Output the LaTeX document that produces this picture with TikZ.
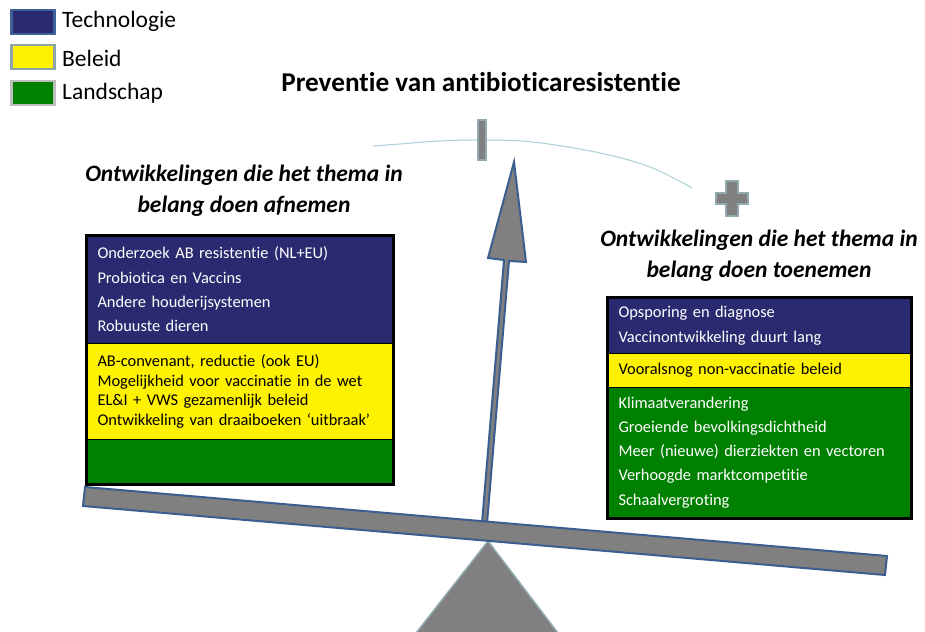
\documentclass[tikz,border=0pt]{standalone}
\usepackage{fontspec}
\setmainfont{Carlito}[RawFeature={-liga;-clig;-calt;-dlig}]
\begin{document}
\begin{tikzpicture}[x=1pt,y=-1pt,
  techblue/.style={fill={rgb,255:red,42;green,42;blue,112}},
  sec/.style={draw=black, line width=1pt, anchor=north west, inner xsep=11pt, inner ysep=0pt, align=left},
  whitetxt/.style={text=white},
  outline/.style={draw=black, line width=3pt},
  legbox/.style={line width=2.5pt},
  legtxt/.style={anchor=west, font=\fontsize{23.5}{26}\selectfont, inner sep=0pt},
  heading/.style={font=\fontsize{23.5}{31}\selectfont\bfseries\itshape, align=center},
  bluedraw/.style={draw={rgb,255:red,59;green,94;blue,145}, line width=2pt, fill={rgb,255:red,128;green,128;blue,128}, line join=miter}
]
\useasboundingbox (0,0) rectangle (925,631);

% legend
\node[legbox, draw={rgb,255:red,62;green,97;blue,150}, techblue, minimum width=43pt, minimum height=24pt, anchor=north west, inner sep=0pt] (lg1) at (10,9) {};
\node[legbox, draw={rgb,255:red,142;green,164;blue,171}, fill=yellow, minimum width=43pt, minimum height=24pt, anchor=north west, inner sep=0pt] (lg2) at (10,44) {};
\node[legbox, draw={rgb,255:red,190;green,190;blue,190}, fill={rgb,255:red,0;green,128;blue,0}, minimum width=43pt, minimum height=24pt, anchor=north west, inner sep=0pt] (lg3) at (10,80) {};
\node[legtxt] (lt1) at (62,21) {Technologie};
\node[legtxt] (lt2) at (62,58) {Beleid};
\node[legtxt] (lt3) at (62,93) {Landschap};

% title
\node[font=\fontsize{27.2}{30}\selectfont\bfseries] (title) at (481,82) {Preventie van antibioticaresistentie};

% arc
\draw[draw={rgb,255:red,170;green,208;blue,214}, line width=1pt] plot[smooth, tension=0.6] coordinates {(373,146) (400,144) (440,141) (483,140) (533,142) (600,153) (650,167) (692,188)};

% minus
\node[draw={rgb,255:red,146;green,170;blue,172}, line width=2.5pt, fill={rgb,255:red,128;green,128;blue,128}, minimum width=8pt, minimum height=40pt, inner sep=0pt] (minus) at (482,140) {};

% plus
\draw[draw={rgb,255:red,146;green,170;blue,172}, line width=2.5pt, fill={rgb,255:red,128;green,128;blue,128}]
 (726,181) -- (738,181) -- (738,193) -- (748,193) -- (748,204) -- (738,204) -- (738,216) -- (726,216) -- (726,204) -- (716,204) -- (716,193) -- (726,193) -- cycle;

% headings
\node[heading] (hl) at (244,191) {Ontwikkelingen die het thema in\\belang doen afnemen};
\node[heading] (hr) at (759,256) {Ontwikkelingen die het thema in\\belang doen toenemen};

% left box
\node[sec, techblue, whitetxt, minimum width=306pt, minimum height=108pt, text width=284pt, font=\fontsize{16.4}{24.3}\selectfont] (lb) at (86,235)
 {Onderzoek AB resistentie (NL+EU)\\Probiotica en Vaccins\\Andere houderijsystemen\\Robuuste dieren};
\node[sec, fill=yellow, minimum width=306pt, minimum height=96pt, text width=284pt, font=\fontsize{16.4}{19.7}\selectfont] (ly) at (86,343)
 {AB-convenant, reductie (ook EU)\\Mogelijkheid voor vaccinatie in de wet\\EL\&I + VWS gezamenlijk beleid\\Ontwikkeling van draaiboeken ‘uitbraak’};
\node[sec, fill={rgb,255:red,0;green,128;blue,0}, minimum width=306pt, minimum height=44pt] (lgn) at (86,439) {};
\draw[outline] (lb.north west) rectangle (lgn.south east);

% right box
\node[sec, techblue, whitetxt, minimum width=303pt, minimum height=56pt, text width=281pt, font=\fontsize{16.4}{25}\selectfont] (rb) at (607,297)
 {Opsporing en diagnose\\Vaccinontwikkeling duurt lang};
\node[sec, fill=yellow, minimum width=303pt, minimum height=34pt, text width=281pt, font=\fontsize{16.4}{24}\selectfont] (ry) at (607,353)
 {Vooralsnog non-vaccinatie beleid};
\node[sec, fill={rgb,255:red,0;green,128;blue,0}, whitetxt, minimum width=303pt, minimum height=130pt, text width=281pt, font=\fontsize{16.4}{24.2}\selectfont] (rg) at (607,387)
 {Klimaatverandering\\Groeiende bevolkingsdichtheid\\Meer (nieuwe) dierziekten en vectoren\\Verhoogde marktcompetitie\\Schaalvergroting};
\draw[outline] (rb.north west) rectangle (rg.south east);

% pivot
\draw[draw={rgb,255:red,147;green,175;blue,180}, line width=1.5pt, fill={rgb,255:red,128;green,128;blue,128}] (488,541) -- (558,633) -- (416,633) -- cycle;

% arrow
\draw[bluedraw] (514,162) -- (526,262) -- (509,261) -- (487,523) -- (482,523) -- (504,260) -- (488,258) -- cycle;

% beam
\draw[bluedraw] (85,487) -- (887,556) -- (885,575) -- (83,506) -- cycle;
\end{tikzpicture}
\end{document}
